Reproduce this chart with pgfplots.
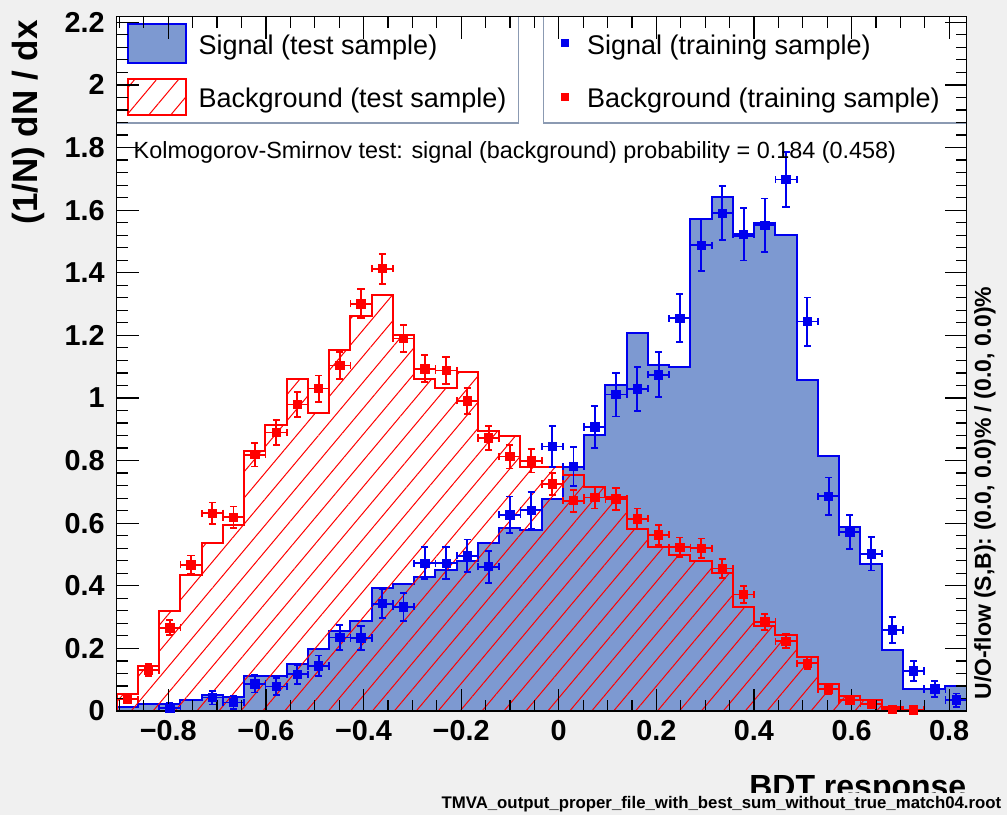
\documentclass[border=0pt]{standalone}
\usepackage{fontspec}
\setmainfont{Liberation Sans}
\usepackage{pgfplots}
\pgfplotsset{compat=1.18}
\usepackage{pgfplotstable}
\usetikzlibrary{patterns.meta}

\definecolor{sigfill}{HTML}{7D99D1}
\definecolor{sigline}{HTML}{0000EE}
\definecolor{bkgline}{HTML}{FF0000}
\definecolor{canvas}{HTML}{F0F0F0}
\definecolor{legframe}{RGB}{139,154,178}

% signal, test sample: bin left edges and heights (last row closes the last bin)
\pgfplotstableread{
x y
-0.9057 0.014
-0.8622 0.022
-0.8186 0.022
-0.7751 0.034
-0.7315 0.051
-0.6880 0.045
-0.6445 0.112
-0.6009 0.112
-0.5574 0.149
-0.5138 0.197
-0.4703 0.254
-0.4268 0.286
-0.3832 0.393
-0.3397 0.407
-0.2961 0.428
-0.2526 0.450
-0.2091 0.480
-0.1655 0.536
-0.1220 0.584
-0.0784 0.579
-0.0349 0.677
0.0086 0.781
0.0522 0.883
0.0957 1.043
0.1393 1.208
0.1828 1.106
0.2263 1.100
0.2699 1.572
0.3134 1.642
0.3570 1.517
0.4005 1.558
0.4440 1.520
0.4876 1.058
0.5311 0.816
0.5747 0.587
0.6182 0.471
0.6617 0.194
0.7053 0.070
0.7488 0.070
0.7924 0.081
0.8359 0.081
}\sigtest

% background, test sample
\pgfplotstableread{
x y
-0.9057 0.055
-0.8622 0.144
-0.8186 0.321
-0.7751 0.433
-0.7315 0.536
-0.6880 0.595
-0.6445 0.831
-0.6009 0.915
-0.5574 1.061
-0.5138 0.952
-0.4703 1.152
-0.4268 1.261
-0.3832 1.330
-0.3397 1.200
-0.2961 1.060
-0.2526 1.032
-0.2091 1.082
-0.1655 0.895
-0.1220 0.877
-0.0784 0.781
-0.0349 0.781
0.0086 0.755
0.0522 0.714
0.0957 0.685
0.1393 0.581
0.1828 0.523
0.2263 0.499
0.2699 0.480
0.3134 0.440
0.3570 0.331
0.4005 0.273
0.4440 0.244
0.4876 0.174
0.5311 0.085
0.5747 0.047
0.6182 0.035
0.6617 0.012
0.7053 0.004
0.7488 0
0.7924 0
0.8359 0
}\bkgtest

% signal, training sample: bin centres, values, errors
\pgfplotstableread{
x y ey
-0.7968 0.009 0.016
-0.7097 0.043 0.022
-0.6662 0.027 0.020
-0.6227 0.087 0.028
-0.5791 0.078 0.027
-0.5356 0.117 0.031
-0.4920 0.144 0.033
-0.4485 0.235 0.039
-0.4050 0.233 0.039
-0.3614 0.343 0.045
-0.3179 0.333 0.045
-0.2743 0.472 0.051
-0.2308 0.472 0.051
-0.1873 0.496 0.052
-0.1437 0.461 0.051
-0.1002 0.627 0.058
-0.0566 0.641 0.058
-0.0131 0.845 0.065
0.0304 0.781 0.063
0.0740 0.907 0.067
0.1175 1.011 0.070
0.1611 1.029 0.071
0.2046 1.074 0.072
0.2481 1.255 0.077
0.2917 1.488 0.083
0.3352 1.590 0.086
0.3788 1.523 0.084
0.4223 1.552 0.085
0.4658 1.698 0.088
0.5094 1.244 0.077
0.5529 0.686 0.060
0.5965 0.572 0.055
0.6400 0.502 0.053
0.6835 0.259 0.041
0.7271 0.128 0.031
0.7706 0.070 0.026
0.8142 0.035 0.021
}\sigtrain

% background, training sample
\pgfplotstableread{
x y ey
-0.8839 0.038 0.013
-0.8404 0.131 0.019
-0.7968 0.266 0.024
-0.7533 0.467 0.030
-0.7097 0.632 0.034
-0.6662 0.619 0.034
-0.6227 0.819 0.038
-0.5791 0.890 0.039
-0.5356 0.979 0.041
-0.4920 1.030 0.042
-0.4485 1.104 0.043
-0.4050 1.301 0.046
-0.3614 1.413 0.048
-0.3179 1.190 0.044
-0.2743 1.093 0.043
-0.2308 1.088 0.043
-0.1873 0.991 0.041
-0.1437 0.872 0.039
-0.1002 0.813 0.038
-0.0566 0.799 0.037
-0.0131 0.725 0.036
0.0304 0.672 0.035
0.0740 0.682 0.035
0.1175 0.677 0.035
0.1611 0.614 0.033
0.2046 0.563 0.032
0.2481 0.523 0.031
0.2917 0.520 0.031
0.3352 0.455 0.030
0.3788 0.372 0.027
0.4223 0.285 0.025
0.4658 0.223 0.023
0.5094 0.153 0.020
0.5529 0.070 0.015
0.5965 0.035 0.013
0.6400 0.023 0.011
0.6835 0.006 0.009
0.7271 0.004 0.008
}\bkgtrain

\begin{document}
\begin{tikzpicture}
\fill[canvas] (-58.35pt,-52pt) rectangle (445.15pt,355.5pt);
\useasboundingbox (-58.35pt,-52pt) rectangle (445.15pt,355.5pt);
\begin{axis}[
  at={(0pt,0pt)}, anchor=south west,
  scale only axis, width=425pt, height=347.15pt,
  xmin=-0.9057, xmax=0.8359, ymin=0, ymax=2.218,
  axis on top,
  axis background/.style={fill=white},
  axis line style={line width=0.75pt},
  every tick/.style={black, line width=0.6pt},
  major tick length=11pt, minor tick length=5.5pt,
  xtick={-0.8,-0.6,-0.4,-0.2,0,0.2,0.4,0.6,0.8},
  xticklabels={−0.8,−0.6,−0.4,−0.2,0,0.2,0.4,0.6,0.8},
  minor xtick={-0.9,-0.85,-0.75,-0.7,-0.65,-0.55,-0.5,-0.45,-0.35,-0.3,-0.25,-0.15,-0.1,-0.05,0.05,0.1,0.15,0.25,0.3,0.35,0.45,0.5,0.55,0.65,0.7,0.75,0.85},
  ytick={0,0.2,0.4,0.6,0.8,1,1.2,1.4,1.6,1.8,2,2.2},
  yticklabels={0,0.2,0.4,0.6,0.8,1,1.2,1.4,1.6,1.8,2,2.2},
  minor ytick={0.04,0.08,0.12,0.16,0.24,0.28,0.32,0.36,0.44,0.48,0.52,0.56,0.64,0.68,0.72,0.76,0.84,0.88,0.92,0.96,1.04,1.08,1.12,1.16,1.24,1.28,1.32,1.36,1.44,1.48,1.52,1.56,1.64,1.68,1.72,1.76,1.84,1.88,1.92,1.96,2.04,2.08,2.12,2.16},
  tick label style={font=\bfseries\fontsize{14.4}{16}\selectfont},
  xticklabel style={yshift=-1.2pt},
  yticklabel style={xshift=-2.5pt},
]
% signal test histogram
\addplot[const plot, draw=sigline, line width=1pt, fill=sigfill] table[x=x,y=y] {\sigtest} \closedcycle;
% background test histogram
\addplot[const plot, draw=bkgline, line width=1pt,
  pattern={Lines[angle=50,distance=8.4pt,line width=0.5pt]}, pattern color=bkgline]
  table[x=x,y=y] {\bkgtest} \closedcycle;
% training samples
\addplot[only marks, mark=square*, mark size=2.1pt, color=sigline,
  error bars/.cd, x dir=both, x fixed=0.02177, y dir=both, y explicit,
  error bar style={line width=0.9pt},
  error mark options={rotate=90, mark size=1.8pt, line width=0.9pt}]
  table[x=x, y=y, y error=ey] {\sigtrain};
\addplot[only marks, mark=square*, mark size=2.1pt, color=bkgline,
  error bars/.cd, x dir=both, x fixed=0.02177, y dir=both, y explicit,
  error bar style={line width=0.9pt},
  error mark options={rotate=90, mark size=1.8pt, line width=0.9pt}]
  table[x=x, y=y, y error=ey] {\bkgtrain};

% legend boxes
\draw[legframe, line width=0.8pt, fill=white] ([shift={(0pt,293.85pt)}]rel axis cs:0,0) rectangle ([shift={(200.8pt,347.15pt)}]rel axis cs:0,0);
\draw[legframe, line width=0.8pt, fill=white] ([shift={(213.3pt,293.85pt)}]rel axis cs:0,0) rectangle ([shift={(425pt,347.15pt)}]rel axis cs:0,0);
\draw[sigline, line width=1pt, fill=sigfill] ([shift={(5.8pt,323.85pt)}]rel axis cs:0,0) rectangle ([shift={(34.65pt,343.5pt)}]rel axis cs:0,0);
\draw[bkgline, line width=1pt, pattern={Lines[angle=50,distance=8.4pt,line width=0.5pt]}, pattern color=bkgline] ([shift={(5.8pt,298pt)}]rel axis cs:0,0) rectangle ([shift={(34.65pt,316pt)}]rel axis cs:0,0);
\fill[sigline] ([shift={(222.3pt,332.1pt)}]rel axis cs:0,0) rectangle ([shift={(226pt,335.8pt)}]rel axis cs:0,0);
\fill[bkgline] ([shift={(222.3pt,305.1pt)}]rel axis cs:0,0) rectangle ([shift={(226pt,308.8pt)}]rel axis cs:0,0);
\node[anchor=base west, inner sep=0, font=\fontsize{13.5}{16}\selectfont] at ([shift={(40.8pt,328pt)}]rel axis cs:0,0) {Signal (test sample)};
\node[anchor=base west, inner sep=0, font=\fontsize{13.5}{16}\selectfont] at ([shift={(40.8pt,301.85pt)}]rel axis cs:0,0) {Background (test sample)};
\node[anchor=base west, inner sep=0, font=\fontsize{13.5}{16}\selectfont] at ([shift={(235pt,328pt)}]rel axis cs:0,0) {Signal (training sample)};
\node[anchor=base west, inner sep=0, font=\fontsize{13.5}{16}\selectfont] at ([shift={(235pt,301.85pt)}]rel axis cs:0,0) {Background (training sample)};
\node[anchor=base west, inner sep=0, font=\fontsize{11.7}{14}\selectfont] at ([shift={(8.3pt,276.35pt)}]rel axis cs:0,0) {Kolmogorov-Smirnov test: signal (background) probability = 0.184 (0.458)};
\end{axis}
% axis titles and side texts
\node[rotate=90, font=\bfseries\fontsize{17.5}{20}\selectfont] at (-44.35pt,294.25pt) {(1/N) dN / dx};
\node[anchor=base east, inner sep=0, font=\bfseries\fontsize{16}{19}\selectfont] at (425pt,-43pt) {BDT response};
\node[anchor=south east, fill=canvas, inner xsep=2pt, inner ysep=1.5pt, font=\bfseries\fontsize{8.4}{10}\selectfont] at (444.5pt,-52pt) {TMVA\_output\_proper\_file\_with\_best\_sum\_without\_true\_match04.root};
\node[rotate=90, anchor=west, inner sep=0, font=\bfseries\fontsize{11.5}{13}\selectfont] at (434.15pt,5.5pt) {U/O-flow (S,B): (0.0, 0.0)\% / (0.0, 0.0)\%};
\end{tikzpicture}
\end{document}
